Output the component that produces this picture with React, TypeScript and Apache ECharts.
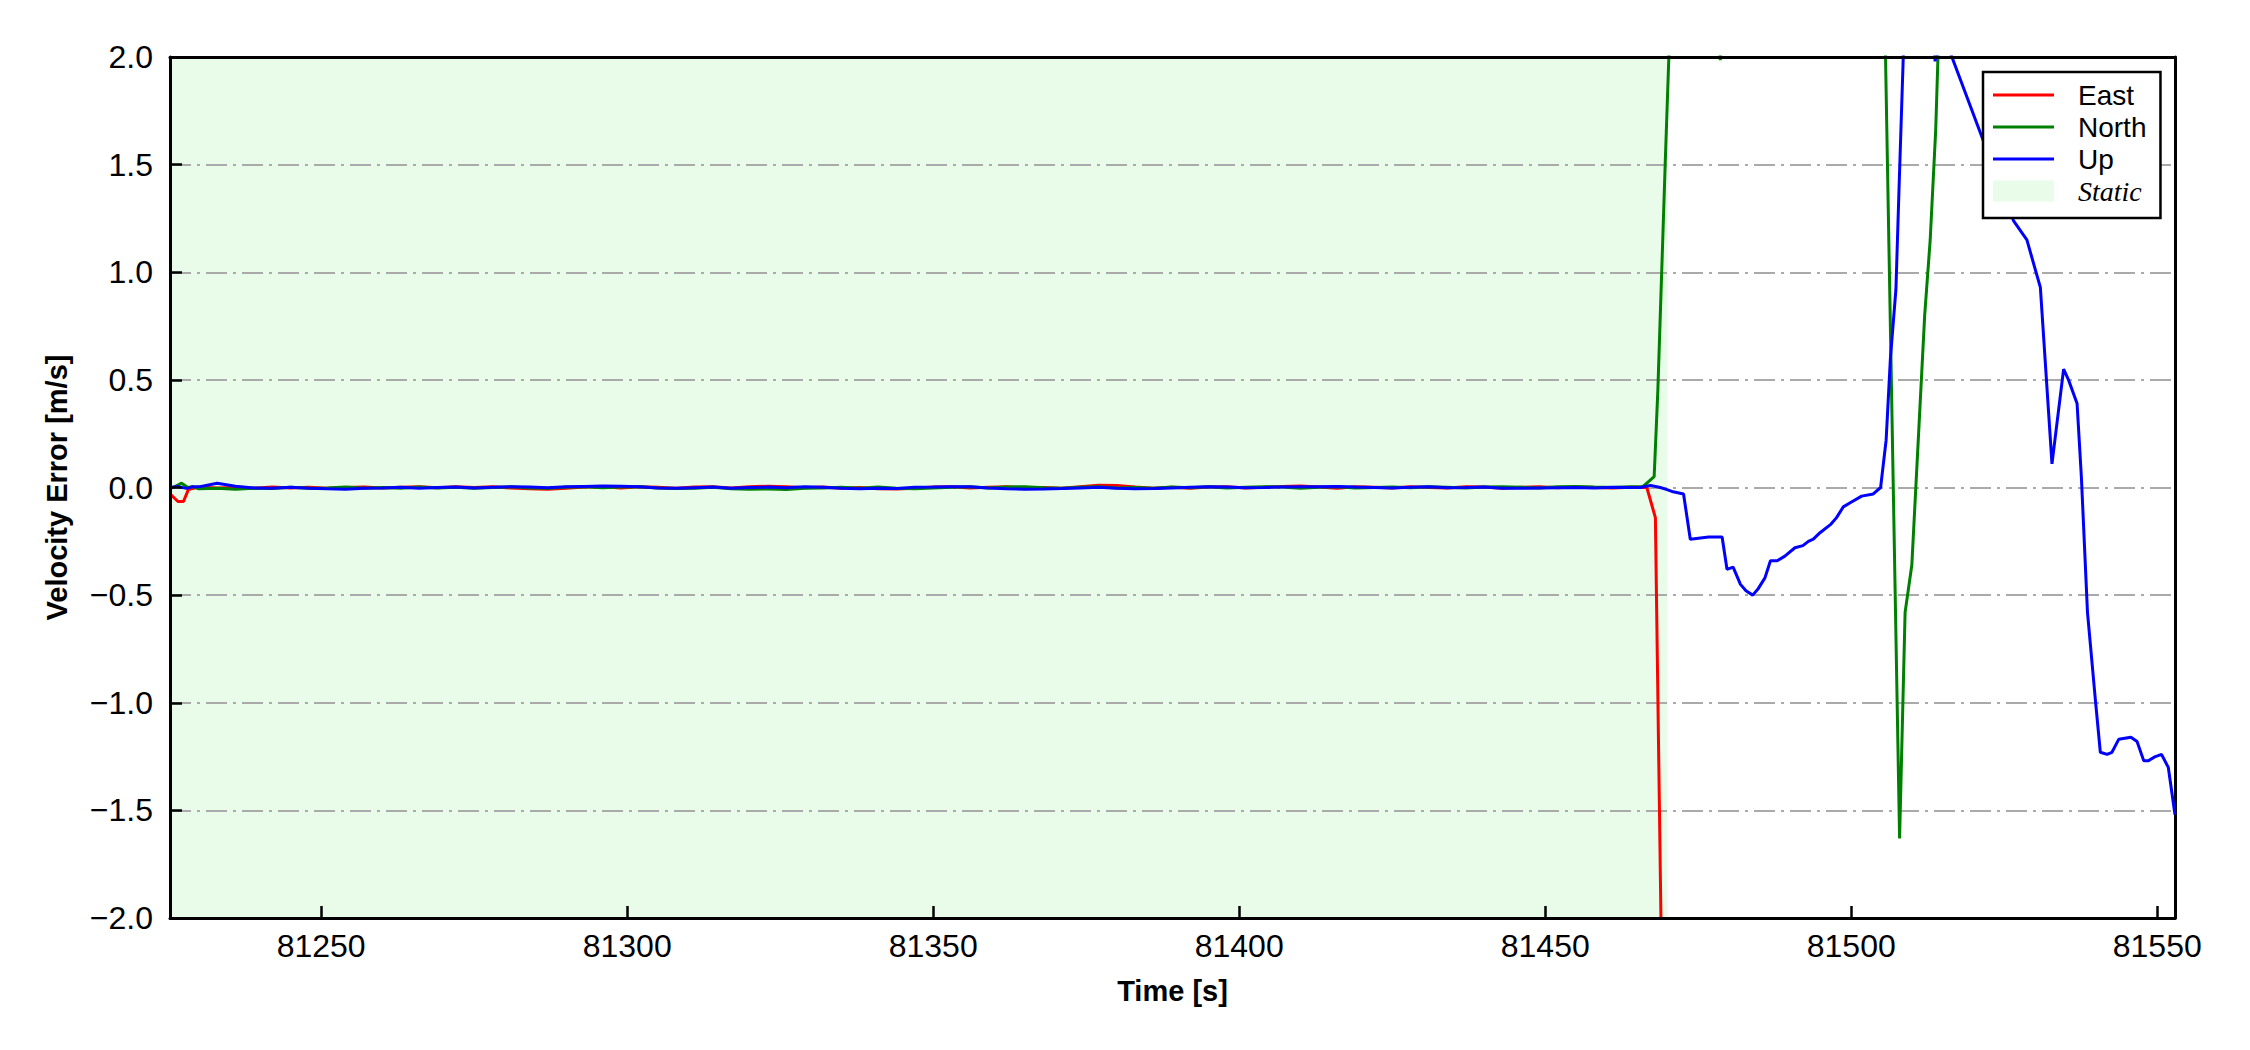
import React, { useEffect, useRef } from "react";
import * as echarts from "echarts";

// ---------- data ----------
const xMin = 81225.3;
const xMax = 81552.9;
const yMin = -2;
const yMax = 2;
const xTicks = [81250, 81300, 81350, 81400, 81450, 81500, 81550];
const staticStart = 81225.3;
const staticEnd = 81470;

// regular samples in the static phase (every 3 s, from 81230 to 81464)
const sampleStart = 81230;
const sampleStep = 3;

const eastHead = [[81225.3, -0.03], [81226.6, -0.065], [81227.5, -0.065], [81228.3, -0.01]];
const eastStatic = [
  0.002, -0.002, 0.0, -0.003, 0.002, -0.002, 0.001, -0.003, 0.0, 0.002,
  -0.002, 0.001, 0.003, -0.001, 0.004, 0.0, 0.003, -0.002, -0.006, -0.008,
  -0.004, 0.002, 0.004, -0.002, 0.003, 0.001, -0.003, 0.002, 0.004, -0.002,
  0.003, 0.006, 0.004, -0.001, 0.002, -0.003, 0.0, -0.006, -0.007, -0.003,
  0.002, 0.004, -0.002, 0.001, 0.003, -0.002, 0.0, -0.003, 0.004, 0.011,
  0.009, 0.002, -0.003, 0.001, -0.004, 0.002, 0.003, -0.002, 0.001, 0.005,
  0.007, 0.002, -0.003, 0.004, 0.001, -0.002, 0.003, 0.0, -0.002, 0.004,
  0.002, -0.003, 0.001, 0.003, -0.001, 0.002, 0.0, -0.002, 0.001,
];
const eastTail = [
  [81466.6, 0.0], [81468.0, -0.14], [81469.2, -2.6], [81470.0, -5.0],
  [81480, -6.2], [81500, -7.0], [81520, -6.5], [81540, -7.4], [81552.9, -8.0],
];

const northHead = [[81225.3, -0.005], [81226.2, 0.005], [81227.2, 0.02], [81228.2, 0.0], [81229.0, 0.004]];
const northStatic = [
  -0.006, -0.004, -0.008, -0.003, -0.005, 0.001, -0.004, -0.002, 0.002, -0.003,
  0.0, -0.004, 0.002, -0.002, 0.001, -0.003, 0.0, 0.003, -0.002, -0.004,
  0.001, 0.003, -0.001, 0.002, 0.004, -0.002, -0.005, -0.003, 0.001, -0.006,
  -0.008, -0.007, -0.009, -0.004, -0.002, 0.001, -0.003, 0.002, -0.004, -0.006,
  -0.002, 0.001, 0.003, -0.002, 0.002, 0.004, -0.001, -0.003, 0.001, 0.003,
  -0.002, 0.0, -0.004, 0.002, -0.001, 0.003, -0.002, 0.001, 0.004, 0.002,
  -0.003, 0.001, 0.003, -0.002, 0.0, 0.002, -0.001, 0.003, 0.001, -0.002,
  0.002, 0.004, 0.001, -0.002, 0.003, 0.005, 0.002, 0.0, 0.003,
];
const northTail = [
  [81466.0, 0.005], [81467.8, 0.05], [81468.4, 0.45], [81469.6, 1.5],
  [81470.8, 2.5], [81474.0, 3.4], [81477.6, 2.8], [81478.6, 1.985], [81479.6, 2.8],
  [81485, 3.6], [81495, 3.8], [81502, 3.4], [81505.0, 2.95],
  [81507.9, -1.63], [81508.8, -0.58], [81509.9, -0.36], [81512.0, 0.8],
  [81512.9, 1.15], [81513.8, 1.66], [81514.5, 2.3], [81516.0, 3.5],
  [81530, 4.2], [81552.9, 4.5],
];

const upHead = [[81225.3, 0.0], [81226.5, 0.005], [81228.0, -0.004], [81229.0, 0.004]];
const upStatic = [
  0.003, 0.02, 0.006, -0.002, -0.004, 0.001, -0.003, -0.006, -0.008, -0.004,
  -0.002, 0.001, -0.003, 0.0, 0.002, -0.002, 0.001, 0.004, 0.002, -0.001,
  0.003, 0.005, 0.007, 0.006, 0.003, -0.002, -0.004, -0.001, 0.002, -0.003,
  0.0, 0.002, -0.001, 0.003, 0.001, -0.004, -0.006, -0.003, -0.005, 0.001,
  0.002, 0.004, 0.003, -0.002, -0.006, -0.008, -0.007, -0.005, -0.002, 0.001,
  -0.003, -0.006, -0.005, -0.002, 0.001, 0.003, 0.002, -0.001, 0.0, 0.002,
  0.004, 0.003, 0.005, 0.002, 0.0, -0.002, 0.001, 0.003, -0.001, 0.0,
  0.002, -0.003, -0.004, -0.002, -0.001, 0.0, -0.002, 0.001, 0.0,
];
const upTail = [
  [81465.5, 0.0], [81467.2, 0.01], [81468.8, 0.0], [81469.9, -0.01], [81470.9, -0.02],
  [81472.6, -0.03], [81473.7, -0.24], [81476.7, -0.23], [81478.9, -0.23], [81479.7, -0.38],
  [81480.7, -0.37], [81481.9, -0.45], [81482.8, -0.48], [81483.9, -0.5], [81484.8, -0.47],
  [81485.9, -0.42], [81486.8, -0.34], [81487.9, -0.34], [81489.1, -0.32], [81490.8, -0.28],
  [81492.1, -0.27], [81493.0, -0.25], [81493.8, -0.24], [81494.9, -0.21], [81496.7, -0.17],
  [81497.6, -0.14], [81498.7, -0.09], [81499.9, -0.07], [81501.7, -0.04], [81503.6, -0.03],
  [81504.8, 0.0], [81505.7, 0.22], [81506.4, 0.6], [81507.3, 0.92], [81507.8, 1.38],
  [81508.5, 2.0], [81509.5, 2.8], [81511.0, 3.2], [81512.5, 2.6], [81513.7, 1.98],
  [81514.6, 2.14], [81521.6, 1.61], [81526.5, 1.24], [81528.7, 1.15], [81530.9, 0.93],
  [81532.8, 0.11], [81534.7, 0.55], [81535.5, 0.5], [81536.9, 0.39], [81537.6, 0.05],
  [81538.6, -0.58], [81539.9, -0.99], [81540.7, -1.23], [81541.8, -1.24], [81542.6, -1.23],
  [81543.7, -1.17], [81545.7, -1.16], [81546.7, -1.18], [81547.8, -1.27], [81548.5, -1.27],
  [81549.7, -1.25], [81550.7, -1.24], [81551.8, -1.3], [81552.9, -1.52],
];

const seriesNames = ["East", "North", "Up"];
const seriesColors = ["#ff0000", "#008000", "#0000ff"];
const staticLabel = "Static";
const staticColor = "#e9fce9";
const yLabel = "Velocity Error [m/s]";
const xLabel = "Time [s]";

function build(head: number[][], vals: number[], tail: number[][]) {
  const mid = vals.map((v, i) => [sampleStart + sampleStep * i, v]);
  return [...head, ...mid, ...tail];
}

const SANS = "Liberation Sans, Arial, sans-serif";
const SERIF = "Liberation Serif, Times New Roman, serif";
const LINE_ICON = "path://M0,0 L61,0 L61,3 L0,3 Z";
const TICK_LEN = 12;

export default function App() {
  const ref = useRef<HTMLDivElement>(null);
  useEffect(() => {
    if (!ref.current) return;
    const chart = echarts.init(ref.current, undefined, { renderer: "svg" });
    const datasets = [
      build(eastHead, eastStatic, eastTail),
      build(northHead, northStatic, northTail),
      build(upHead, upStatic, upTail),
    ];
    const lineSeries = seriesNames.map((name, i) => ({
      name,
      type: "line",
      data: datasets[i],
      symbol: "none",
      showSymbol: false,
      clip: true,
      z: 3,
      color: seriesColors[i],
      itemStyle: { color: seriesColors[i] },
      lineStyle: { color: seriesColors[i], width: 3 },
    }));
    chart.setOption({
      animation: false,
      grid: { left: 170, top: 57, width: 2005, height: 861, show: false },
      legend: {
        orient: "vertical",
        left: 1983,
        top: 72,
        padding: [9, 14, 13, 10],
        itemWidth: 61,
        itemHeight: 21,
        itemGap: 4,
        symbolKeepAspect: true,
        borderColor: "#000",
        borderWidth: 2.5,
        borderRadius: 0,
        backgroundColor: "#fff",
        z: 8,
        selectedMode: false,
        textStyle: { fontFamily: SANS, fontSize: 28, color: "#000", padding: [0, 0, 0, 19] },
        data: [
          { name: "East", icon: LINE_ICON },
          { name: "North", icon: LINE_ICON },
          { name: "Up", icon: LINE_ICON },
          {
            name: staticLabel,
            icon: "rect",
            textStyle: { fontFamily: SERIF, fontStyle: "italic", fontSize: 28, color: "#000", padding: [0, 0, 0, 19] },
          },
        ],
      },
      xAxis: [
        {
          type: "value",
          position: "bottom",
          min: xMin,
          max: xMax,
          z: 6,
          name: xLabel,
          nameLocation: "middle",
          nameGap: 58,
          nameTextStyle: { fontFamily: SANS, fontSize: 29, fontWeight: "bold", color: "#000" },
          axisLine: { show: true, onZero: false, lineStyle: { color: "#000", width: 3 } },
          axisTick: {
            show: true,
            inside: true,
            length: TICK_LEN,
            customValues: xTicks,
            lineStyle: { color: "#000", width: 2.5 },
          },
          axisLabel: {
            customValues: xTicks,
            margin: 12,
            fontFamily: SANS,
            fontSize: 32,
            color: "#000",
            formatter: (v: number) => String(Math.round(v)),
          },
          splitLine: { show: false },
        },
        {
          type: "value",
          position: "top",
          min: xMin,
          max: xMax,
          z: 6,
          axisLine: { show: true, onZero: false, lineStyle: { color: "#000", width: 3 } },
          axisTick: { show: false },
          axisLabel: { show: false },
          splitLine: { show: false },
        },
      ],
      yAxis: [
        {
          type: "value",
          position: "left",
          min: yMin,
          max: yMax,
          interval: 0.5,
          z: 6,
          name: yLabel,
          nameLocation: "middle",
          nameGap: 99,
          nameTextStyle: { fontFamily: SANS, fontSize: 29, fontWeight: "bold", color: "#000" },
          axisLine: { show: true, onZero: false, lineStyle: { color: "#000", width: 3 } },
          axisTick: { show: true, inside: true, length: TICK_LEN, lineStyle: { color: "#000", width: 2.5 } },
          axisLabel: {
            margin: 17,
            fontFamily: SANS,
            fontSize: 32,
            color: "#000",
            formatter: (v: number) => (v < 0 ? "\u2212" : "") + Math.abs(v).toFixed(1),
          },
          splitLine: { show: false },
        },
        {
          type: "value",
          position: "right",
          min: yMin,
          max: yMax,
          interval: 0.5,
          z: 2,
          axisLine: { show: true, onZero: false, lineStyle: { color: "#000", width: 3 } },
          axisTick: { show: false },
          axisLabel: { show: false },
          splitLine: { show: true, lineStyle: { color: "#aaaaaa", width: 2.2, type: [21, 6, 3, 6] } },
        },
      ],
      series: [
        {
          name: staticLabel,
          type: "line",
          data: [[xMin, 50]],
          symbol: "none",
          showSymbol: false,
          color: staticColor,
          itemStyle: { color: staticColor },
          lineStyle: { color: staticColor, width: 0 },
          z: 1,
          markArea: {
            silent: true,
            z: 1,
            itemStyle: { color: staticColor },
            label: { show: false },
            data: [[{ xAxis: staticStart }, { xAxis: staticEnd }]],
          },
        },
        ...lineSeries,
      ],
    });
    return () => chart.dispose();
  }, []);
  return (
    <div
      ref={ref}
      style={{ position: "absolute", left: 0, top: 0, width: 2250, height: 1050, background: "#fff" }}
    />
  );
}
